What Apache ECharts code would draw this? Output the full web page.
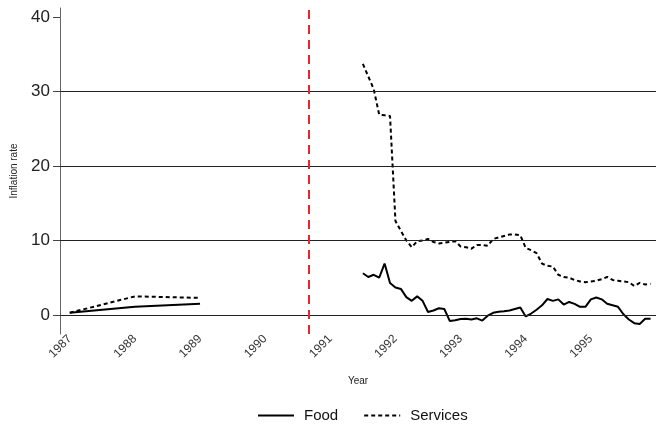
<!DOCTYPE html>
<html>
<head>
<meta charset="utf-8">
<script src="https://cdn.jsdelivr.net/npm/echarts@6/dist/echarts.min.js"></script>
<style>
  html, body { margin: 0; padding: 0; background: #fff; }
  #chart { width: 656px; height: 424px; }
</style>
</head>
<body>
<div id="chart"></div>
<script>
// Annual inflation before the reform
const annualYears = [1987, 1988, 1989];
const foodAnnual = [0.3, 1.1, 1.5];
const servicesAnnual = [0.3, 2.5, 2.3];

// Monthly inflation, July 1991 to December 1995
const monthlyStart = { year: 1991, month: 7 };
const foodMonthly = [
  5.6, 5.1, 5.4, 5.0, 6.9, 4.3, 3.7, 3.5, 2.4, 1.9,
  2.5, 1.9, 0.4, 0.6, 0.9, 0.8, -0.8, -0.7, -0.55, -0.5,
  -0.6, -0.45, -0.75, -0.1, 0.3, 0.45, 0.5, 0.6, 0.8, 1.0,
  -0.2, 0.2, 0.7, 1.3, 2.15, 1.9, 2.1, 1.4, 1.75, 1.5,
  1.1, 1.1, 2.1, 2.35, 2.1, 1.5, 1.3, 1.1, 0.1, -0.6,
  -1.1, -1.2, -0.5, -0.5
];
const servicesMonthly = [
  33.7, 32.0, 30.3, 26.9, 26.8, 26.7, 12.6, 11.3, 10.0, 9.1,
  9.9, 10.0, 10.2, 9.8, 9.6, 9.7, 9.8, 9.9, 9.2, 9.1,
  8.9, 9.4, 9.4, 9.3, 10.2, 10.4, 10.6, 10.8, 10.8, 10.7,
  9.0, 8.7, 8.3, 6.9, 6.6, 6.5, 5.4, 5.1, 5.0, 4.7,
  4.5, 4.4, 4.5, 4.6, 4.8, 5.1, 4.7, 4.6, 4.5, 4.4,
  3.9, 4.3, 4.1, 4.2
];

// Axis labels and reference lines
const yearTicks = [1987, 1988, 1989, 1990, 1991, 1992, 1993, 1994, 1995];
const rateTicks = [0, 10, 20, 30, 40];
const gridRates = [0, 10, 20, 30];
const reformDate = { year: 1990, month: 9 };

const FONT = '"Liberation Sans", Arial, Helvetica, sans-serif';

function decimalDate(year, month) {
  return year + (month - 1) / 12;
}
function monthlyPairs(values) {
  const t0 = decimalDate(monthlyStart.year, monthlyStart.month);
  return values.map((v, k) => [t0 + k / 12, v]);
}
function annualPairs(values) {
  return values.map((v, i) => [annualYears[i], v]);
}

const solid = { color: '#000', width: 2, type: 'solid' };
const dashed = { color: '#000', width: 2, type: [4, 3] };

const chart = echarts.init(document.getElementById('chart'), null, { renderer: 'canvas' });
chart.setOption({
  animation: false,
  backgroundColor: '#fff',
  grid: { left: 60, right: 0, top: 8, bottom: 90, containLabel: false },
  legend: {
    data: [
      { name: 'Food', itemStyle: { opacity: 0 } },
      { name: 'Services', itemStyle: { opacity: 0 } }
    ],
    left: 252,
    top: 403,
    itemWidth: 36,
    itemHeight: 14,
    itemGap: 25,
    textStyle: { fontFamily: FONT, fontSize: 15, color: '#111', padding: [0, 0, 0, 5] }
  },
  xAxis: {
    type: 'value',
    min: 1986.85,
    max: 1996.0,
    name: 'Year',
    nameLocation: 'middle',
    nameGap: 42,
    nameTextStyle: { fontFamily: FONT, fontSize: 10, color: '#222' },
    axisLine: { show: true, lineStyle: { color: '#666', width: 1 } },
    axisTick: { show: false },
    splitLine: { show: false },
    axisLabel: {
      customValues: yearTicks,
      rotate: 45,
      margin: 3,
      fontFamily: FONT,
      fontSize: 12,
      color: '#333',
      formatter: v => String(Math.round(v))
    }
  },
  yAxis: {
    type: 'value',
    min: -2.55,
    max: 41.2,
    name: 'Inflation rate',
    nameLocation: 'middle',
    nameRotate: 90,
    nameGap: 41,
    nameTextStyle: { fontFamily: FONT, fontSize: 10, color: '#222' },
    axisLine: { show: true, lineStyle: { color: '#666', width: 1 } },
    axisTick: { show: true, customValues: rateTicks, length: 7, lineStyle: { color: '#444' } },
    splitLine: { show: false },
    axisLabel: {
      customValues: rateTicks,
      margin: 10,
      fontFamily: FONT,
      fontSize: 17,
      color: '#222'
    }
  },
  series: [
    {
      // horizontal grid lines and the reform marker
      name: 'guides',
      type: 'line',
      data: [],
      z: 1,
      silent: true,
      markLine: {
        silent: true,
        symbol: 'none',
        animation: false,
        label: { show: false },
        data: gridRates.map(r => ({ yAxis: r, lineStyle: { color: '#222', width: 1, type: 'solid' } }))
          .concat([{ xAxis: decimalDate(reformDate.year, reformDate.month),
                     lineStyle: { color: '#e8262c', width: 2, type: [9, 6] } }])
      }
    },
    { name: 'Food', type: 'line', data: annualPairs(foodAnnual), showSymbol: false, symbol: 'none', lineStyle: solid, itemStyle: { color: '#000' }, z: 3 },
    { name: 'Services', type: 'line', data: annualPairs(servicesAnnual), showSymbol: false, symbol: 'none', lineStyle: dashed, itemStyle: { color: '#000' }, z: 3 },
    { name: 'Food', type: 'line', data: monthlyPairs(foodMonthly), showSymbol: false, symbol: 'none', lineStyle: solid, itemStyle: { color: '#000' }, z: 3 },
    { name: 'Services', type: 'line', data: monthlyPairs(servicesMonthly), showSymbol: false, symbol: 'none', lineStyle: dashed, itemStyle: { color: '#000' }, z: 3 }
  ]
});
</script>
</body>
</html>
